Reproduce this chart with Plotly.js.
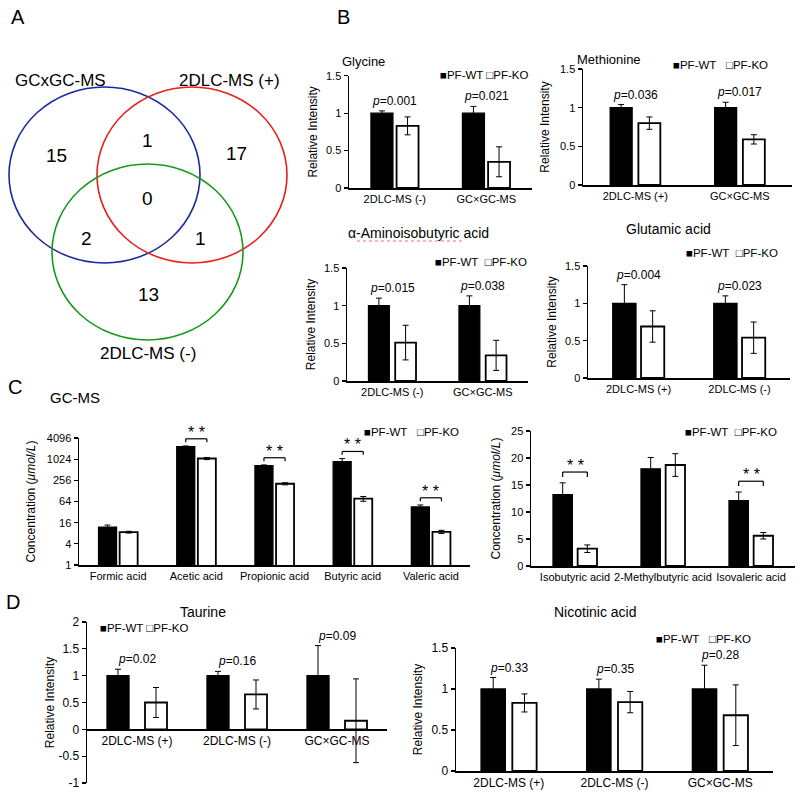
<!DOCTYPE html>
<html><head><meta charset="utf-8">
<script src="https://cdn.plot.ly/plotly-3.0.1.min.js"></script>
<style>body{margin:0;background:#fff}#chart{width:800px;height:796px}</style>
</head><body><div id="chart"></div><script>
// ---------- DATA ----------
const vennLabels = ['GCxGC-MS', '2DLC-MS (+)', '2DLC-MS (-)'];
// only GC, only LC(+), only LC(-), GC&LC(+), GC&LC(-), LC(+)&LC(-), all three
const vennCounts = [15, 17, 13, 1, 2, 1, 0];

const groupNames = ['PF-WT', 'PF-KO'];

const glyCats = ['2DLC-MS (-)', 'GC×GC-MS'];
const glyWT = [1.00, 1.00], glyWTErr = [0.03, 0.09];
const glyKO = [0.83, 0.35], glyKOErr = [0.12, 0.20];
const glyP = ['0.001', '0.021'];

const metCats = ['2DLC-MS (+)', 'GC×GC-MS'];
const metWT = [1.00, 1.00], metWTErr = [0.04, 0.07];
const metKO = [0.80, 0.59], metKOErr = [0.08, 0.06];
const metP = ['0.036', '0.017'];

const aibCats = ['2DLC-MS (-)', 'GC×GC-MS'];
const aibWT = [1.00, 1.00], aibWTErr = [0.10, 0.13];
const aibKO = [0.51, 0.34], aibKOErr = [0.23, 0.20];
const aibP = ['0.015', '0.038'];

const gluCats = ['2DLC-MS (+)', '2DLC-MS (-)'];
const gluWT = [1.00, 1.00], gluWTErr = [0.25, 0.10];
const gluKO = [0.69, 0.54], gluKOErr = [0.21, 0.21];
const gluP = ['0.004', '0.023'];

const scfaCats = ['Formic acid', 'Acetic acid', 'Propionic acid', 'Butyric acid', 'Valeric acid'];
const scfaWT = [12, 2330, 667, 870, 45], scfaWTErr = [1.7, 100, 35, 190, 6];
const scfaKO = [8.6, 1070, 205, 77, 8.8], scfaKOErr = [0.5, 75, 14, 12, 0.9];
const scfaSig = [false, true, true, true, true];

const bcfaCats = ['Isobutyric acid', '2-Methylbutyric acid', 'Isovaleric acid'];
const bcfaWT = [13.2, 18.0, 12.1], bcfaWTErr = [2.2, 2.1, 1.6];
const bcfaKO = [3.2, 18.7, 5.6], bcfaKOErr = [0.7, 2.1, 0.6];
const bcfaSig = [true, false, true];

const tauCats = ['2DLC-MS (+)', '2DLC-MS (-)', 'GC×GC-MS'];
const tauWT = [1.00, 1.00, 1.00], tauWTErr = [0.12, 0.08, 0.56];
const tauKO = [0.50, 0.65, 0.16], tauKOErr = [0.28, 0.27, 0.78];
const tauP = ['0.02', '0.16', '0.09'];

const nicCats = ['2DLC-MS (+)', '2DLC-MS (-)', 'GC×GC-MS'];
const nicWT = [1.00, 1.00, 1.00], nicWTErr = [0.14, 0.12, 0.29];
const nicKO = [0.83, 0.84, 0.68], nicKOErr = [0.11, 0.13, 0.37];
const nicP = ['0.33', '0.35', '0.28'];

const relTicks = [0, 0.5, 1, 1.5];
const relTickText = ['0', '0.5', '1', '1.5'];
const tauTicks = [-1, -0.5, 0, 0.5, 1, 1.5, 2];
const tauTickText = ['-1', '-0.5', '0', '0.5', '1', '1.5', '2'];
const logTicks = [1, 4, 16, 64, 256, 1024, 4096];
const logTickText = ['1', '4', '16', '64', '256', '1024', '4096'];
const linTicks = [0, 5, 10, 15, 20, 25];

// ---------- HELPERS ----------
const F = 'Liberation Sans, Arial, sans-serif';
const W = 800, H = 796;
const px = x => x / W, py = y => 1 - y / H;
const traces = [], annotations = [], shapes = [];
const layout = {
  width: W, height: H, margin: {l: 0, r: 0, t: 0, b: 0},
  paper_bgcolor: '#fff', plot_bgcolor: 'rgba(0,0,0,0)',
  font: {family: F, color: '#000', size: 11},
  showlegend: false, barmode: 'overlay'
};

function ann(text, x, y, size, extra) {
  annotations.push(Object.assign({
    text: text, x: px(x), y: py(y), xref: 'paper', yref: 'paper', showarrow: false,
    font: {size: size, family: F, color: '#000'}, xanchor: 'center', yanchor: 'middle'
  }, extra || {}));
}

function panel(c) {
  const n = c.n;
  const xa = n === 1 ? 'x' : 'x' + n, ya = n === 1 ? 'y' : 'y' + n;
  const xk = n === 1 ? 'xaxis' : 'xaxis' + n, yk = n === 1 ? 'yaxis' : 'yaxis' + n;
  const half = c.gap / 2;
  const eb = arr => ({type: 'data', array: arr, visible: true, color: '#000', thickness: 1, width: 3});
  traces.push({type: 'bar', name: groupNames[0], x: c.cats, y: c.wt, xaxis: xa, yaxis: ya,
    width: c.bw, offset: -half - c.bw, marker: {color: '#000', line: {color: '#000', width: 1.3}},
    error_y: eb(c.wtErr), hoverinfo: 'x+y'});
  traces.push({type: 'bar', name: groupNames[1], x: c.cats, y: c.ko, xaxis: xa, yaxis: ya,
    width: c.bw, offset: half, marker: {color: '#fff', line: {color: '#000', width: 1.8}},
    error_y: eb(c.koErr), hoverinfo: 'x+y'});
  const xaxis = {domain: [px(c.x0), px(c.x1)], type: 'category', range: [-0.5, c.cats.length - 0.5],
    showline: true, linecolor: '#000', linewidth: 1.5, ticks: '', tickangle: 0,
    tickfont: {size: c.xfs || 11, family: F}, showgrid: false, zeroline: false, fixedrange: true};
  if (c.freeX !== undefined) { xaxis.anchor = 'free'; xaxis.position = py(c.freeX); }
  else xaxis.anchor = ya;
  layout[xk] = xaxis;
  layout[yk] = {domain: [py(c.yb), py(c.yt)], anchor: xa, type: c.log ? 'log' : 'linear',
    range: c.range, tickmode: 'array', tickvals: c.tickvals, ticktext: c.ticktext,
    showline: true, linecolor: '#000', linewidth: 1.5, ticks: 'outside', ticklen: 4, tickwidth: 1.2,
    tickcolor: '#000', tickfont: {size: c.yfs || 11, family: F}, showgrid: false, zeroline: false,
    title: {text: c.ytitle, font: {size: 12, family: F},
      standoff: c.standoff !== undefined ? c.standoff : 6}, fixedrange: true};
  if (c.p) {
    c.p.forEach((p, i) => annotations.push({text: '<i>p</i>=' + p, xref: xa, yref: ya, x: i,
      y: c.wt[i] + c.wtErr[i], yanchor: 'bottom', yshift: 1, showarrow: false,
      font: {size: 12, family: F, color: '#000'}}));
  }
  if (c.sig) {
    const cx = c.bw / 2 + half;
    c.sig.forEach((s, i) => {
      if (!s) return;
      const top = c.wt[i] + c.wtErr[i];
      const yb = c.log ? top * 1.6 : top + 2;
      const yd = c.log ? yb / 1.25 : yb - 0.9;
      const seg = (x0, y0, x1, y1) => shapes.push({type: 'line', xref: xa, yref: ya,
        x0: x0, y0: y0, x1: x1, y1: y1, line: {color: '#000', width: 1.2}});
      seg(i - cx, yb, i + cx, yb);
      seg(i - cx, yb, i - cx, yd);
      seg(i + cx, yb, i + cx, yd);
      annotations.push({text: '* *', xref: xa, yref: ya, x: i, y: c.log ? Math.log10(yb) : yb,
        yanchor: 'bottom', yshift: -4, showarrow: false,
        font: {size: 16, family: F, color: '#000'}});
    });
  }
  if (c.title) ann(c.title[0], c.title[1], c.title[2], c.title[3] || 14);
  if (c.legend) ann('■PF-WT' + c.legend[3] + '□PF-KO', c.legend[0], c.legend[1], 11.5,
    {xanchor: c.legend[2]});
}

// ---------- PANEL A: VENN ----------
const circ = (x0, y0, x1, y1, col) => shapes.push({type: 'circle', xref: 'paper', yref: 'paper',
  x0: px(x0), x1: px(x1), y0: py(y1), y1: py(y0), line: {color: col, width: 1.6}});
circ(9, 87, 200, 263, '#1c2a9c');
circ(97, 87, 287, 263, '#e8201c');
circ(52, 164, 243, 340, '#169a1c');
ann(vennLabels[0], 60, 81, 17);
ann(vennLabels[1], 229, 81, 17);
ann(vennLabels[2], 148, 353, 17);
const vennPos = [[56, 155], [236, 153], [148, 294], [147, 140], [86, 238], [201, 238], [147, 198]];
vennCounts.forEach((v, i) => ann(String(v), vennPos[i][0], vennPos[i][1], 19));

// ---------- PANEL LETTERS ----------
ann('A', 9, 17, 20, {xanchor: 'left'});
ann('B', 335, 17, 20, {xanchor: 'left'});
ann('C', 6, 387, 20, {xanchor: 'left'});
ann('GC-MS', 75, 397, 15);
ann('D', 4, 602, 20, {xanchor: 'left'});

// ---------- PANEL B ----------
panel({n: 1, cats: glyCats, wt: glyWT, wtErr: glyWTErr, ko: glyKO, koErr: glyKOErr, p: glyP,
  x0: 349, x1: 532, yt: 75.7, yb: 188, range: [0, 1.5], tickvals: relTicks, ticktext: relTickText,
  bw: 0.24, gap: 0.04, ytitle: 'Relative Intensity', title: ['Glycine', 363, 62, 13],
  legend: [530, 75, 'right', ' ']});
panel({n: 2, cats: metCats, wt: metWT, wtErr: metWTErr, ko: metKO, koErr: metKOErr, p: metP,
  x0: 583, x1: 792, yt: 69, yb: 185, range: [0, 1.5], tickvals: relTicks, ticktext: relTickText,
  bw: 0.21, gap: 0.06, ytitle: 'Relative Intensity', standoff: 8, title: ['Methionine', 609, 60, 13],
  legend: [770, 65, 'right', '\u00a0\u00a0\u00a0']});
panel({n: 3, cats: aibCats, wt: aibWT, wtErr: aibWTErr, ko: aibKO, koErr: aibKOErr, p: aibP,
  x0: 347, x1: 528, yt: 268, yb: 381, range: [0, 1.5], tickvals: relTicks, ticktext: relTickText,
  bw: 0.23, gap: 0.065, ytitle: 'Relative Intensity', title: ['α-Aminoisobutyric acid', 418, 233, 14],
  legend: [529, 262, 'right', '\u00a0\u00a0']});
panel({n: 4, cats: gluCats, wt: gluWT, wtErr: gluWTErr, ko: gluKO, koErr: gluKOErr, p: gluP,
  x0: 588, x1: 790, yt: 266, yb: 378, range: [0, 1.5], tickvals: relTicks, ticktext: relTickText,
  bw: 0.23, gap: 0.05, ytitle: 'Relative Intensity', title: ['Glutamic acid', 668, 229, 14],
  legend: [780, 253, 'right', '\u00a0\u00a0']});
// spell-check underline under the title
shapes.push({type: 'line', xref: 'paper', yref: 'paper', x0: px(357), x1: px(462), y0: py(241), y1: py(241),
  line: {color: '#f07070', width: 1, dash: 'dot'}});

// ---------- PANEL C ----------
panel({n: 5, cats: scfaCats, wt: scfaWT, wtErr: scfaWTErr, ko: scfaKO, koErr: scfaKOErr, sig: scfaSig,
  x0: 79, x1: 470, yt: 438, yb: 565, log: true, range: [0, Math.log10(4096)],
  tickvals: logTicks, ticktext: logTickText, bw: 0.23, gap: 0.04, standoff: 8,
  ytitle: 'Concentration (<i>μmol/L</i>)', legend: [362, 432, 'left', '\u00a0\u00a0\u00a0']});
panel({n: 6, cats: bcfaCats, wt: bcfaWT, wtErr: bcfaWTErr, ko: bcfaKO, koErr: bcfaKOErr, sig: bcfaSig,
  x0: 531, x1: 795, yt: 431, yb: 566, range: [0, 25], tickvals: linTicks, ticktext: linTicks.map(String),
  bw: 0.22, gap: 0.06, standoff: 8, ytitle: 'Concentration (<i>μmol/L</i>)',
  legend: [683, 432, 'left', '\u00a0\u00a0']});

// ---------- PANEL D ----------
panel({n: 7, cats: tauCats, wt: tauWT, wtErr: tauWTErr, ko: tauKO, koErr: tauKOErr, p: tauP,
  x0: 87, x1: 387, yt: 622, yb: 783, range: [-1, 2], tickvals: tauTicks, ticktext: tauTickText,
  freeX: 729, bw: 0.22, gap: 0.16, ytitle: 'Relative Intensity', yfs: 12, xfs: 12, standoff: 1,
  title: ['Taurine', 203, 612], legend: [98, 628, 'left', ' ']});
panel({n: 8, cats: nicCats, wt: nicWT, wtErr: nicWTErr, ko: nicKO, koErr: nicKOErr, p: nicP,
  x0: 456, x1: 773, yt: 648, yb: 771, range: [0, 1.5], tickvals: relTicks, ticktext: relTickText,
  bw: 0.23, gap: 0.066, ytitle: 'Relative Intensity', yfs: 12, xfs: 12,
  title: ['Nicotinic acid', 595, 612], legend: [753, 639, 'right', '\u00a0\u00a0\u00a0']});

layout.annotations = annotations;
layout.shapes = shapes;
Plotly.newPlot('chart', traces, layout, {displayModeBar: false, staticPlot: true});
</script></body></html>
